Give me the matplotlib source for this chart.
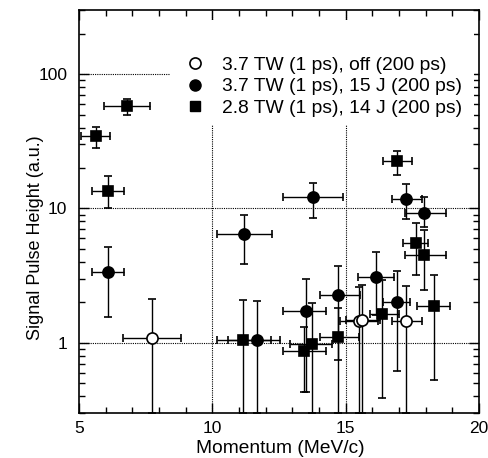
import matplotlib.pyplot as plt
from matplotlib.lines import Line2D
from matplotlib.patches import Rectangle
from matplotlib.ticker import MultipleLocator, LogLocator, NullFormatter
import numpy as np

plt.rcParams['font.family'] = ['Liberation Sans', 'DejaVu Sans']
plt.rcParams['font.size'] = 12

# 3.7 TW (1 ps), off (200 ps)  -- open circles
off_x = [7.74, 15.50, 15.62, 17.25]
off_y = [1.08, 1.45, 1.47, 1.45]
off_xlo = [6.66, 14.80, 15.00, 16.72]
off_xhi = [8.81, 16.20, 16.30, 17.85]
off_ylo = [0.3, 0.3, 0.3, 0.3]
off_yhi = [2.13, 2.60, 2.67, 2.63]

# 3.7 TW (1 ps), 15 J (200 ps)  -- filled circles
c15_x = [6.10, 11.20, 11.66, 13.50, 13.79, 14.72, 16.14, 16.91, 17.26, 17.95]
c15_y = [3.36, 6.41, 1.05, 1.72, 12.2, 2.28, 3.10, 2.00, 11.7, 9.30]
c15_xlo = [5.50, 10.16, 10.60, 12.66, 12.66, 14.04, 15.47, 16.41, 16.72, 17.22]
c15_xhi = [6.69, 12.22, 12.55, 14.26, 14.91, 15.54, 16.81, 17.41, 17.85, 18.76]
c15_ylo = [1.55, 3.88, 0.3, 0.43, 8.5, 0.75, 1.60, 0.62, 8.3, 7.3]
c15_yhi = [5.2, 9.0, 2.04, 3.0, 15.6, 3.7, 4.73, 3.42, 15.3, 12.2]

# 2.8 TW (1 ps), 14 J (200 ps)  -- filled squares
s14_x = [5.63, 6.10, 6.79, 11.16, 13.44, 13.75, 14.72, 16.35, 16.94, 17.64, 17.95, 18.31]
s14_y = [34.5, 13.4, 58.0, 1.05, 0.87, 0.98, 1.10, 1.64, 22.4, 5.52, 4.50, 1.87]
s14_xlo = [5.07, 5.50, 5.95, 10.16, 12.66, 12.90, 14.04, 15.90, 16.41, 17.14, 17.22, 17.66]
s14_xhi = [6.16, 6.69, 7.66, 12.20, 14.26, 14.50, 15.50, 17.00, 17.47, 18.10, 18.76, 18.91]
s14_ylo = [28.0, 10.0, 50.0, 0.3, 0.43, 0.3, 0.3, 0.39, 17.8, 3.17, 2.48, 0.53]
s14_yhi = [40.3, 17.4, 65.0, 2.09, 1.30, 1.97, 1.80, 2.91, 27.0, 7.8, 6.9, 3.17]

labels = ["3.7 TW (1 ps), off (200 ps)",
          "3.7 TW (1 ps), 15 J (200 ps)",
          "2.8 TW (1 ps), 14 J (200 ps)"]


def errs(v, lo, hi):
    v, lo, hi = np.array(v), np.array(lo), np.array(hi)
    return [v - lo, hi - v]


fig = plt.figure(figsize=(4.89, 4.58), dpi=100)
ax = fig.add_axes([0.1616, 0.0983, 0.818, 0.8797])

series = [
    (off_x, off_y, off_xlo, off_xhi, off_ylo, off_yhi, 'o', 'white', 8),
    (c15_x, c15_y, c15_xlo, c15_xhi, c15_ylo, c15_yhi, 'o', 'black', 8),
    (s14_x, s14_y, s14_xlo, s14_xhi, s14_ylo, s14_yhi, 's', 'black', 7.5),
]
for x, y, xlo, xhi, ylo, yhi, m, fc, ms in series:
    ax.errorbar(x, y, xerr=errs(x, xlo, xhi), yerr=errs(y, ylo, yhi),
                fmt=m, mfc=fc, mec='black', mew=1.2, ms=ms,
                ecolor='black', elinewidth=1.0, capsize=3, capthick=1.0,
                zorder=3)

ax.set_yscale('log')
ax.set_xlim(5, 20)
ax.set_ylim(0.3, 300)

ax.set_xticks([5, 10, 15, 20])
ax.xaxis.set_minor_locator(MultipleLocator(1))
ax.set_yticks([1, 10, 100])
ax.set_yticklabels(['1', '10', '100'])
ax.yaxis.set_minor_locator(LogLocator(base=10, subs=np.arange(2, 10)))
ax.yaxis.set_minor_formatter(NullFormatter())

ax.tick_params(which='both', direction='in', top=True, right=True, width=1.0)
ax.tick_params(which='major', length=7, labelsize=12.5)
ax.tick_params(axis='x', which='major', pad=6)
ax.tick_params(axis='y', which='major', pad=8.5)
ax.tick_params(which='minor', length=4)
for s in ax.spines.values():
    s.set_linewidth(1.2)

for v in [10, 15]:
    ax.axvline(v, color='black', ls=(0, (1, 1)), lw=0.8, zorder=1)
for v in [1, 10, 100]:
    ax.axhline(v, color='black', ls=(0, (1, 1)), lw=0.8, zorder=1)

# white patch behind the legend hides the grid there
ax.add_patch(Rectangle((0.2275, 0.715), 0.76, 0.26, transform=ax.transAxes,
                       facecolor='white', edgecolor='none', zorder=2))

ax.set_xlabel("Momentum (MeV/c)", fontsize=13.8)
ax.xaxis.set_label_coords(0.5025, -0.066)
ax.xaxis.label.set_va('top')
ax.set_ylabel("Signal Pulse Height (a.u.)", fontsize=13)
ax.yaxis.set_label_coords(-0.11, 0.435)
ax.yaxis.label.set_va('center')

handles = [
    Line2D([], [], ls='none', marker='o', mfc='white', mec='black', mew=1.2, ms=8),
    Line2D([], [], ls='none', marker='o', mfc='black', mec='black', ms=8),
    Line2D([], [], ls='none', marker='s', mfc='black', mec='black', ms=7.5),
]
leg = ax.legend(handles, labels, loc='upper left', bbox_to_anchor=(0.266, 0.886),
                fontsize=13.9, frameon=False, handlelength=1.0, handletextpad=0.9,
                labelspacing=0.22, borderpad=0, borderaxespad=0)
leg.set_zorder(4)

fig.savefig("out.png", dpi=100)
